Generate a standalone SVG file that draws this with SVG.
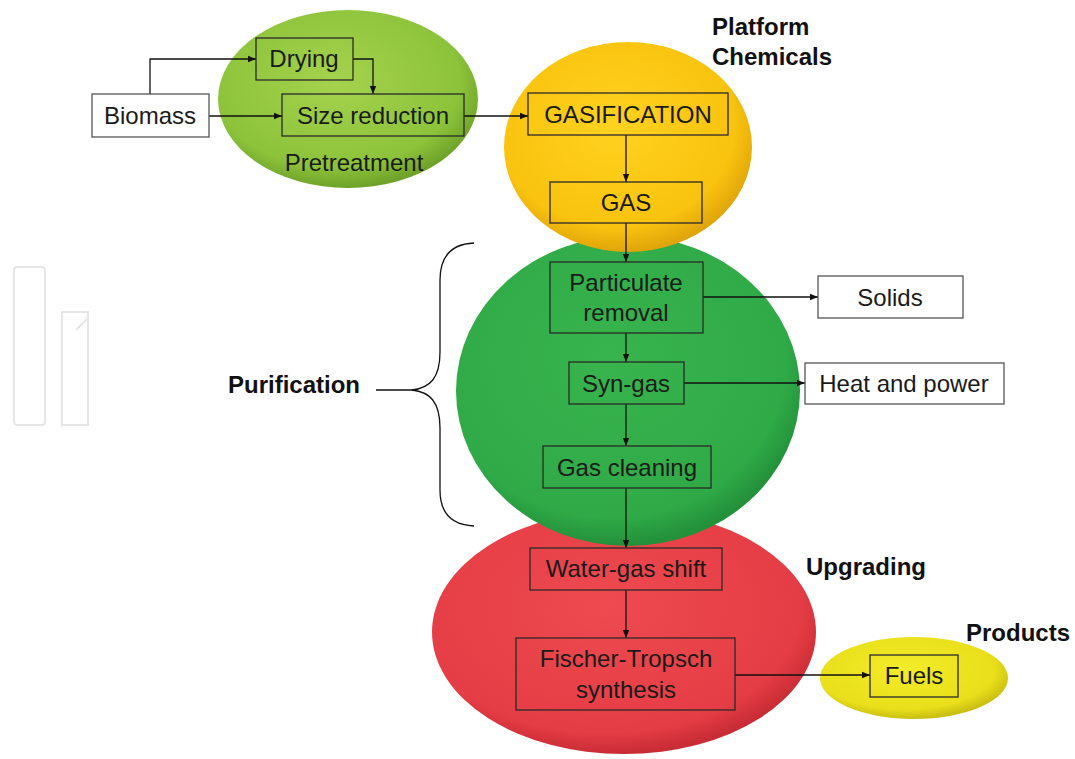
<svg xmlns="http://www.w3.org/2000/svg" width="1075" height="759" viewBox="0 0 1075 759">
<defs>
<style>
.box{fill:none;stroke:#2a2a2a;stroke-width:1.3}
.wbox{fill:#ffffff;stroke:#555;stroke-width:1.3}
.t{font-family:"Liberation Sans",Arial,sans-serif;font-size:24px;fill:#1a1a1a;text-anchor:middle}
.b{font-family:"Liberation Sans",Arial,sans-serif;font-size:24px;font-weight:bold;fill:#111}
.c{fill:none;stroke:#111;stroke-width:1.3}
.wm{fill:none;stroke:#e6e6e6;stroke-width:2}
</style>
<marker id="ah" viewBox="0 0 10 10" refX="10" refY="5" markerWidth="8" markerHeight="8" markerUnits="userSpaceOnUse" orient="auto">
<path d="M0,1 L10,5 L0,9 z" fill="#111"/>
</marker>
<radialGradient id="gLight" cx="0.45" cy="0.4" r="0.6">
<stop offset="0" stop-color="#a6d24e"/>
<stop offset="0.8" stop-color="#8cc33a"/>
<stop offset="1" stop-color="#6fa22a"/>
</radialGradient>
<radialGradient id="gYellow" cx="0.45" cy="0.4" r="0.6">
<stop offset="0" stop-color="#ffd21f"/>
<stop offset="0.8" stop-color="#f9c30f"/>
<stop offset="1" stop-color="#e0a50a"/>
</radialGradient>
<radialGradient id="gGreen" cx="0.45" cy="0.4" r="0.6">
<stop offset="0" stop-color="#38b44e"/>
<stop offset="0.85" stop-color="#2faa47"/>
<stop offset="1" stop-color="#23903a"/>
</radialGradient>
<radialGradient id="gRed" cx="0.45" cy="0.4" r="0.6">
<stop offset="0" stop-color="#ee4a50"/>
<stop offset="0.85" stop-color="#e53d45"/>
<stop offset="1" stop-color="#c92c35"/>
</radialGradient>
<radialGradient id="gProd" cx="0.45" cy="0.4" r="0.6">
<stop offset="0" stop-color="#f3ec2a"/>
<stop offset="0.8" stop-color="#e9df1a"/>
<stop offset="1" stop-color="#c9bd12"/>
</radialGradient>
</defs>

<g id="watermark">
<rect class="wm" x="14" y="267" width="31" height="158" rx="3"/>
<path class="wm" d="M62,312 L88,312 L88,425 L62,425 Z M88,318 L76,330"/>
</g>

<g id="bubbles">
<ellipse cx="624" cy="632" rx="192" ry="122" fill="url(#gRed)"/>
<ellipse cx="628" cy="391" rx="172" ry="155" fill="url(#gGreen)"/>
<ellipse cx="628" cy="147" rx="124" ry="105" fill="url(#gYellow)"/>
<ellipse cx="348" cy="99" rx="130" ry="89" fill="url(#gLight)"/>
<ellipse cx="914" cy="678" rx="94" ry="41" fill="url(#gProd)"/>
</g>

<g id="labels">
<text class="b" x="712" y="35">Platform</text>
<text class="b" x="712" y="65">Chemicals</text>
<text class="b" x="228" y="393">Purification</text>
<text class="b" x="806" y="575">Upgrading</text>
<text class="b" x="966" y="641">Products</text>
<text class="t" x="354" y="171">Pretreatment</text>
</g>

<g id="brace">
<path class="c" d="M376,390 L412,390 C430,388 440,378 440,352 L440,280 C440,256 452,244 474,243"/>
<path class="c" d="M412,390 C430,392 440,402 440,428 L440,490 C440,514 452,525 474,526"/>
</g>

<g id="connectors">
<path class="c" marker-end="url(#ah)" d="M150,94 L150,59 L256,59"/>
<path class="c" marker-end="url(#ah)" d="M353,59 L373,59 L373,94"/>
<path class="c" marker-end="url(#ah)" d="M209,116 L282,116"/>
<path class="c" marker-end="url(#ah)" d="M464,116 L528,116"/>
<path class="c" marker-end="url(#ah)" d="M626,135 L626,182"/>
<path class="c" marker-end="url(#ah)" d="M626,223 L626,262"/>
<path class="c" marker-end="url(#ah)" d="M626,333 L626,362"/>
<path class="c" marker-end="url(#ah)" d="M626,404 L626,446"/>
<path class="c" marker-end="url(#ah)" d="M626,488 L626,548"/>
<path class="c" marker-end="url(#ah)" d="M626,590 L626,638"/>
<path class="c" marker-end="url(#ah)" d="M703,297 L818,297"/>
<path class="c" marker-end="url(#ah)" d="M684,383 L805,383"/>
<path class="c" marker-end="url(#ah)" d="M735,675 L870,675"/>
</g>

<g id="n-biomass"><rect class="wbox" x="92" y="94" width="117" height="43"/><text class="t" x="150" y="124">Biomass</text></g>
<g id="n-drying"><rect class="box" x="256" y="38" width="97" height="42"/><text class="t" x="304" y="67">Drying</text></g>
<g id="n-size"><rect class="box" x="282" y="94" width="182" height="42"/><text class="t" x="373" y="124">Size reduction</text></g>
<g id="n-gasification"><rect class="box" x="528" y="93" width="200" height="42"/><text class="t" x="628" y="123">GASIFICATION</text></g>
<g id="n-gas"><rect class="box" x="550" y="182" width="152" height="41"/><text class="t" x="626" y="211">GAS</text></g>
<g id="n-particulate"><rect class="box" x="550" y="262" width="153" height="71"/><text class="t" x="626" y="291">Particulate</text><text class="t" x="626" y="321">removal</text></g>
<g id="n-syngas"><rect class="box" x="569" y="362" width="115" height="42"/><text class="t" x="626" y="392">Syn-gas</text></g>
<g id="n-cleaning"><rect class="box" x="543" y="446" width="168" height="42"/><text class="t" x="627" y="476">Gas cleaning</text></g>
<g id="n-solids"><rect class="wbox" x="818" y="276" width="145" height="42"/><text class="t" x="890" y="306">Solids</text></g>
<g id="n-heat"><rect class="wbox" x="805" y="363" width="199" height="41"/><text class="t" x="904" y="392">Heat and power</text></g>
<g id="n-wgs"><rect class="box" x="530" y="548" width="192" height="42"/><text class="t" x="626" y="577">Water-gas shift</text></g>
<g id="n-ft"><rect class="box" x="516" y="638" width="219" height="72"/><text class="t" x="626" y="667">Fischer-Tropsch</text><text class="t" x="626" y="698">synthesis</text></g>
<g id="n-fuels"><rect class="box" x="870" y="655" width="88" height="42"/><text class="t" x="914" y="684">Fuels</text></g>
</svg>
